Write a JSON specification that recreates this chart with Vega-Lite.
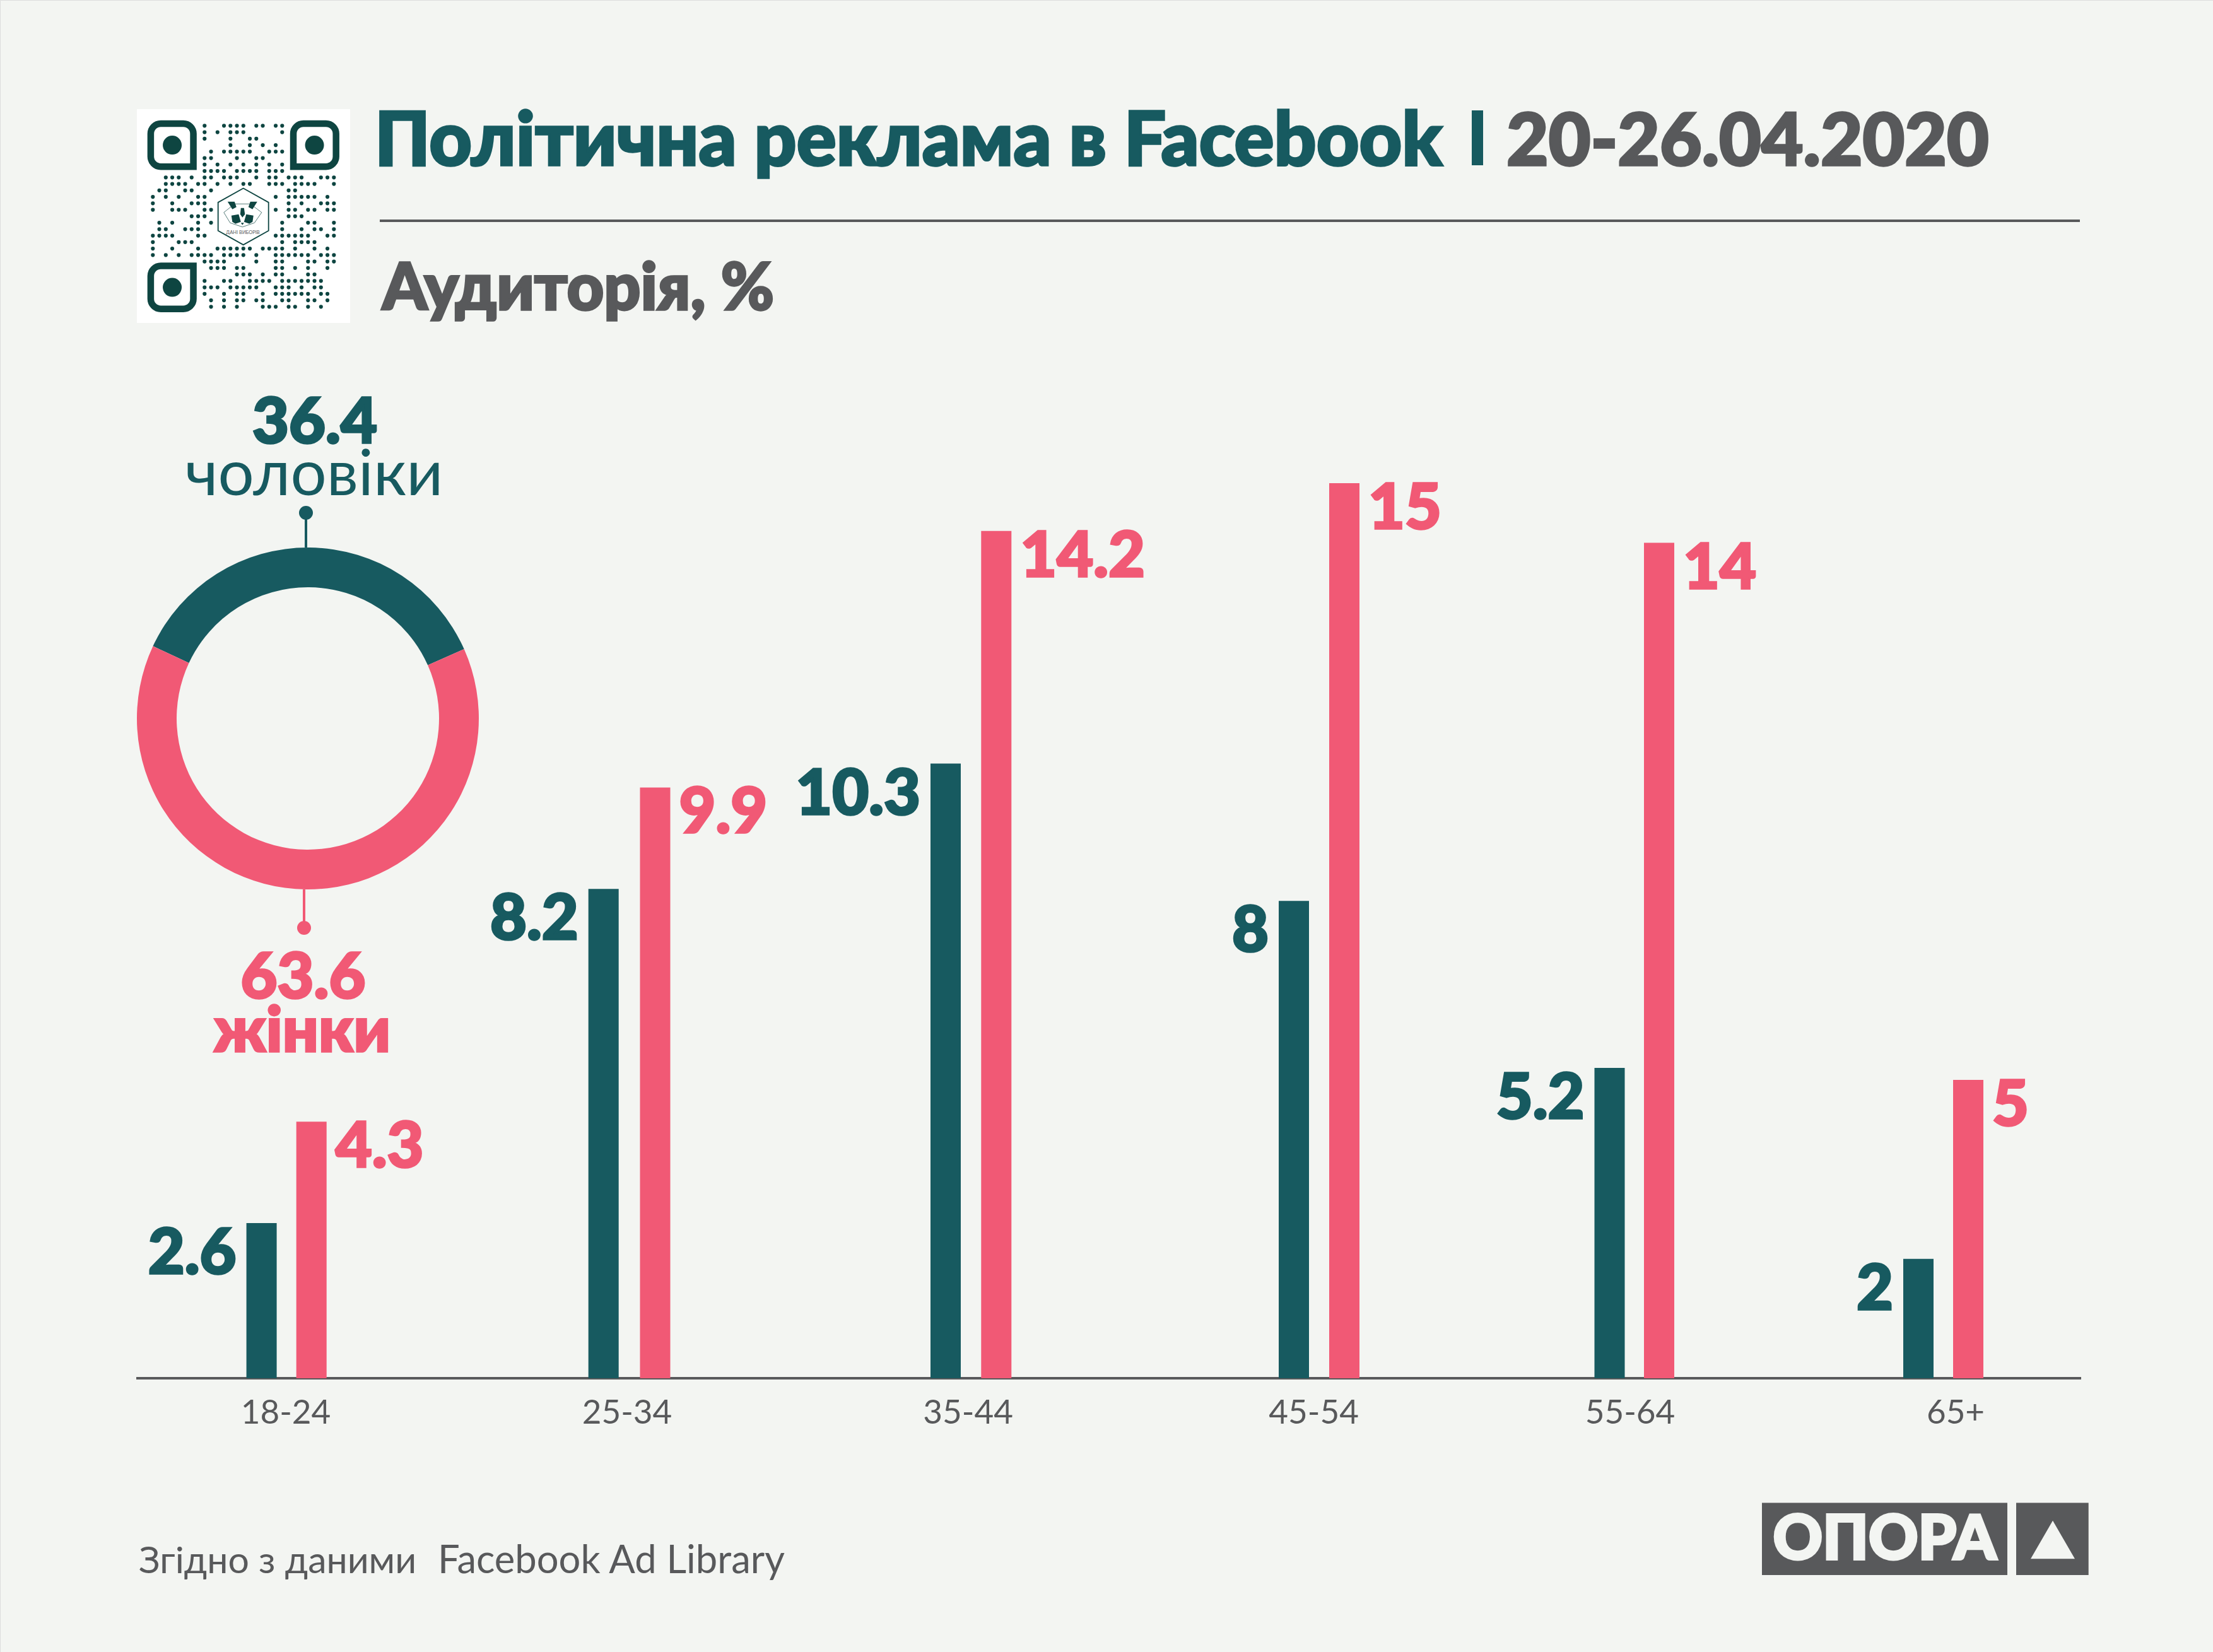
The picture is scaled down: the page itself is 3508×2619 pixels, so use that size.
{
  "$schema": "https://vega.github.io/schema/vega-lite/v6.json",
  "width": 3508,
  "height": 2619,
  "padding": 0,
  "autosize": {"type": "fit", "contains": "padding"},
  "background": "#F3F5F2",
  "data": {"values": [{}]},
  "datasets": {
    "ages": [
      {"age": "18-24", "from": 18, "men": 2.6, "women": 4.3},
      {"age": "25-34", "from": 25, "men": 8.2, "women": 9.9},
      {"age": "35-44", "from": 35, "men": 10.3, "women": 14.2},
      {"age": "45-54", "from": 45, "men": 8, "women": 15},
      {"age": "55-64", "from": 55, "men": 5.2, "women": 14},
      {"age": "65+", "from": 65, "men": 2, "women": 5}
    ],
    "gender": [
      {"gender": "чоловіки", "share": 36.4, "ord": 1},
      {"gender": "жінки", "share": 63.6, "ord": 2}
    ],
    "qr": [
      {"row":0,"col":8},{"row":0,"col":11},{"row":0,"col":12},{"row":0,"col":13},{"row":0,"col":14},{"row":0,"col":16},{"row":0,"col":17},{"row":0,"col":19},{"row":0,"col":20},
      {"row":1,"col":8},{"row":1,"col":10},{"row":1,"col":12},{"row":1,"col":13},{"row":1,"col":14},{"row":1,"col":20},
      {"row":2,"col":8},{"row":2,"col":12},{"row":2,"col":15},{"row":2,"col":16},
      {"row":3,"col":12},{"row":3,"col":15},{"row":3,"col":17},{"row":3,"col":19},
      {"row":4,"col":9},{"row":4,"col":11},{"row":4,"col":12},{"row":4,"col":13},{"row":4,"col":14},{"row":4,"col":15},{"row":4,"col":18},{"row":4,"col":19},{"row":4,"col":20},
      {"row":5,"col":8},{"row":5,"col":9},{"row":5,"col":13},{"row":5,"col":16},{"row":5,"col":17},
      {"row":6,"col":8},{"row":6,"col":10},{"row":6,"col":12},{"row":6,"col":14},{"row":6,"col":16},{"row":6,"col":18},{"row":6,"col":20},
      {"row":7,"col":8},{"row":7,"col":9},{"row":7,"col":10},{"row":7,"col":11},{"row":7,"col":13},{"row":7,"col":14},{"row":7,"col":15},{"row":7,"col":16},{"row":7,"col":18},{"row":7,"col":19},{"row":7,"col":20},
      {"row":8,"col":2},{"row":8,"col":3},{"row":8,"col":4},{"row":8,"col":6},{"row":8,"col":8},{"row":8,"col":9},{"row":8,"col":11},{"row":8,"col":12},{"row":8,"col":13},{"row":8,"col":16},{"row":8,"col":18},{"row":8,"col":19},{"row":8,"col":21},{"row":8,"col":22},{"row":8,"col":23},{"row":8,"col":26},{"row":8,"col":27},{"row":8,"col":28},
      {"row":9,"col":2},{"row":9,"col":3},{"row":9,"col":4},{"row":9,"col":5},{"row":9,"col":7},{"row":9,"col":8},{"row":9,"col":10},{"row":9,"col":12},{"row":9,"col":14},{"row":9,"col":15},{"row":9,"col":18},{"row":9,"col":19},{"row":9,"col":20},{"row":9,"col":22},{"row":9,"col":23},{"row":9,"col":24},{"row":9,"col":25},{"row":9,"col":28},
      {"row":10,"col":1},{"row":10,"col":2},{"row":10,"col":5},{"row":10,"col":6},{"row":10,"col":9},{"row":10,"col":21},{"row":10,"col":22},
      {"row":11,"col":0},{"row":11,"col":2},{"row":11,"col":4},{"row":11,"col":7},{"row":11,"col":8},{"row":11,"col":19},{"row":11,"col":21},{"row":11,"col":22},{"row":11,"col":23},{"row":11,"col":24},{"row":11,"col":25},{"row":11,"col":27},
      {"row":12,"col":0},{"row":12,"col":3},{"row":12,"col":6},{"row":12,"col":7},{"row":12,"col":8},{"row":12,"col":21},{"row":12,"col":23},{"row":12,"col":26},{"row":12,"col":27},{"row":12,"col":28},
      {"row":13,"col":0},{"row":13,"col":3},{"row":13,"col":4},{"row":13,"col":5},{"row":13,"col":8},{"row":13,"col":9},{"row":13,"col":19},{"row":13,"col":21},{"row":13,"col":22},{"row":13,"col":24},{"row":13,"col":25},{"row":13,"col":27},{"row":13,"col":28},
      {"row":14,"col":6},{"row":14,"col":7},{"row":14,"col":8},{"row":14,"col":21},{"row":14,"col":22},{"row":14,"col":23},
      {"row":15,"col":1},{"row":15,"col":3},{"row":15,"col":7},{"row":15,"col":9},{"row":15,"col":20},{"row":15,"col":24},{"row":15,"col":25},{"row":15,"col":28},
      {"row":16,"col":1},{"row":16,"col":2},{"row":16,"col":5},{"row":16,"col":6},{"row":16,"col":7},{"row":16,"col":20},{"row":16,"col":23},{"row":16,"col":25},{"row":16,"col":26},{"row":16,"col":28},
      {"row":17,"col":0},{"row":17,"col":1},{"row":17,"col":2},{"row":17,"col":3},{"row":17,"col":7},{"row":17,"col":8},{"row":17,"col":19},{"row":17,"col":20},{"row":17,"col":21},{"row":17,"col":22},{"row":17,"col":23},{"row":17,"col":24},{"row":17,"col":27},{"row":17,"col":28},
      {"row":18,"col":0},{"row":18,"col":4},{"row":18,"col":5},{"row":18,"col":6},{"row":18,"col":20},{"row":18,"col":22},{"row":18,"col":23},{"row":18,"col":24},{"row":18,"col":25},
      {"row":19,"col":0},{"row":19,"col":3},{"row":19,"col":7},{"row":19,"col":10},{"row":19,"col":11},{"row":19,"col":12},{"row":19,"col":13},{"row":19,"col":14},{"row":19,"col":15},{"row":19,"col":17},{"row":19,"col":18},{"row":19,"col":19},{"row":19,"col":20},{"row":19,"col":22},{"row":19,"col":25},{"row":19,"col":27},
      {"row":20,"col":0},{"row":20,"col":2},{"row":20,"col":4},{"row":20,"col":6},{"row":20,"col":7},{"row":20,"col":8},{"row":20,"col":9},{"row":20,"col":11},{"row":20,"col":12},{"row":20,"col":13},{"row":20,"col":14},{"row":20,"col":16},{"row":20,"col":19},{"row":20,"col":20},{"row":20,"col":21},{"row":20,"col":22},{"row":20,"col":23},{"row":20,"col":24},{"row":20,"col":26},{"row":20,"col":27},{"row":20,"col":28},
      {"row":21,"col":8},{"row":21,"col":9},{"row":21,"col":10},{"row":21,"col":11},{"row":21,"col":16},{"row":21,"col":19},{"row":21,"col":20},{"row":21,"col":24},{"row":21,"col":25},{"row":21,"col":27},{"row":21,"col":28},
      {"row":22,"col":9},{"row":22,"col":10},{"row":22,"col":11},{"row":22,"col":13},{"row":22,"col":14},{"row":22,"col":19},{"row":22,"col":20},{"row":22,"col":22},{"row":22,"col":24},{"row":22,"col":27},
      {"row":23,"col":13},{"row":23,"col":14},{"row":23,"col":15},{"row":23,"col":17},{"row":23,"col":19},{"row":23,"col":20},{"row":23,"col":24},{"row":23,"col":25},
      {"row":24,"col":8},{"row":24,"col":11},{"row":24,"col":12},{"row":24,"col":15},{"row":24,"col":16},{"row":24,"col":17},{"row":24,"col":18},{"row":24,"col":20},{"row":24,"col":21},{"row":24,"col":22},{"row":24,"col":23},{"row":24,"col":24},{"row":24,"col":25},{"row":24,"col":26},
      {"row":25,"col":8},{"row":25,"col":9},{"row":25,"col":10},{"row":25,"col":12},{"row":25,"col":13},{"row":25,"col":14},{"row":25,"col":15},{"row":25,"col":16},{"row":25,"col":19},{"row":25,"col":20},{"row":25,"col":21},{"row":25,"col":23},{"row":25,"col":25},{"row":25,"col":26},
      {"row":26,"col":8},{"row":26,"col":11},{"row":26,"col":13},{"row":26,"col":14},{"row":26,"col":17},{"row":26,"col":19},{"row":26,"col":20},{"row":26,"col":21},{"row":26,"col":22},{"row":26,"col":23},{"row":26,"col":24},{"row":26,"col":26},{"row":26,"col":27},
      {"row":27,"col":9},{"row":27,"col":11},{"row":27,"col":13},{"row":27,"col":14},{"row":27,"col":16},{"row":27,"col":17},{"row":27,"col":20},{"row":27,"col":21},{"row":27,"col":24},{"row":27,"col":25},{"row":27,"col":27},
      {"row":28,"col":9},{"row":28,"col":11},{"row":28,"col":13},{"row":28,"col":17},{"row":28,"col":18},{"row":28,"col":19},{"row":28,"col":21},{"row":28,"col":22},{"row":28,"col":24},{"row":28,"col":26}
    ],
    "finders": [
      {"col": 3, "row": 3, "c1": -0.33, "c2": 6.27, "r1": -0.33, "r2": 6.33},
      {"col": 25, "row": 3, "c1": 21.73, "c2": 28.33, "r1": -0.33, "r2": 6.33},
      {"col": 3, "row": 25, "c1": -0.33, "c2": 6.27, "r1": 21.67, "r2": 28.33}
    ]
  },
  "resolve": {"scale": {"x": "independent", "y": "independent", "color": "independent", "theta": "independent"}},
  "layer": [
    {
      "mark": {"type": "rect", "fill": "#FFFFFF"},
      "encoding": {"x": {"value": 217}, "x2": {"value": 555}, "y": {"value": 173}, "y2": {"value": 512}}
    },
    {
      "data": {"name": "finders"},
      "mark": {
        "type": "rect",
        "fillOpacity": 0,
        "stroke": "#0E4541",
        "strokeWidth": 10.5,
        "cornerRadiusTopLeft": 16,
        "cornerRadiusBottomRight": {"expr": "datum.col < 10 && datum.row < 10 ? 0 : 16"},
        "cornerRadiusBottomLeft": {"expr": "datum.col > 10 ? 0 : 16"},
        "cornerRadiusTopRight": {"expr": "datum.row > 10 ? 0 : 16"}
      },
      "encoding": {
        "x": {"field": "c1", "type": "quantitative", "axis": null, "scale": {"domain": [0, 28], "range": [242.3, 529.3], "nice": false, "zero": false}},
        "x2": {"field": "c2"},
        "y": {"field": "r1", "type": "quantitative", "axis": null, "scale": {"domain": [0, 28], "range": [199.3, 486.3], "nice": false, "zero": false}},
        "y2": {"field": "r2"}
      }
    },
    {
      "data": {"name": "finders"},
      "mark": {"type": "point", "filled": true, "opacity": 1, "size": 900, "shape": "circle", "color": "#0E4541"},
      "encoding": {
        "x": {"field": "col", "type": "quantitative", "axis": null, "scale": {"domain": [0, 28], "range": [242.3, 529.3], "nice": false, "zero": false}},
        "y": {"field": "row", "type": "quantitative", "axis": null, "scale": {"domain": [0, 28], "range": [199.3, 486.3], "nice": false, "zero": false}}
      }
    },
    {
      "data": {"name": "qr"},
      "mark": {"type": "point", "filled": true, "opacity": 1, "size": 38, "shape": "circle", "color": "#0E4541"},
      "encoding": {
        "x": {"field": "col", "type": "quantitative", "axis": null, "scale": {"domain": [0, 28], "range": [242.3, 529.3], "nice": false, "zero": false}},
        "y": {"field": "row", "type": "quantitative", "axis": null, "scale": {"domain": [0, 28], "range": [199.3, 486.3], "nice": false, "zero": false}}
      }
    },
    {
      "mark": {"type": "point", "filled": false, "opacity": 1, "size": 25600, "strokeWidth": 1.8, "color": "#0E4541", "shape": "M0,-0.56 L0.5,-0.28 L0.5,0.28 L0,0.56 L-0.5,0.28 L-0.5,-0.28 Z"},
      "encoding": {"x": {"value": 385.7}, "y": {"value": 343.3}}
    },
    {
      "mark": {"type": "point", "filled": false, "opacity": 1, "size": 10000, "strokeWidth": 0.7, "color": "#0E4541", "shape": "M-0.59,-0.03 L-0.25,-0.3 L0.25,-0.3 L0.61,-0.03 L0.38,0.3 L0,0.43 L-0.39,0.3 Z"},
      "encoding": {"x": {"value": 384.3}, "y": {"value": 338.3}}
    },
    {
      "mark": {"type": "point", "filled": true, "opacity": 1, "size": 10000, "color": "#0E4541", "shape": "M-0.47,-0.37 L-0.25,-0.37 L-0.19,-0.2 L-0.32,-0.13 Z M0.47,-0.37 L0.25,-0.37 L0.19,-0.2 L0.32,-0.13 Z M-0.35,0.07 L-0.12,0.03 L-0.05,0.27 L-0.22,0.33 L-0.32,0.27 Z M0.35,0.07 L0.12,0.03 L0.05,0.27 L0.22,0.33 L0.32,0.27 Z M-0.05,-0.17 L0.05,-0.17 L0.08,0.03 L0,0.13 L-0.07,0.03 Z M-0.05,0.3 L0.05,0.3 L0,0.37 Z"},
      "encoding": {"x": {"value": 384.3}, "y": {"value": 338.3}}
    },
    {
      "mark": {"type": "text", "text": "ДАНІ ВИБОРІВ", "font": "Lato", "fontSize": 7.5, "color": "#58595B", "align": "center", "baseline": "alphabetic"},
      "encoding": {"x": {"value": 385}, "y": {"value": 371}}
    },
    {
      "mark": {"type": "text", "text": "Політична реклама в Facebook", "font": "Lato", "fontWeight": 900, "fontSize": 117.5, "color": "#175A60", "stroke": "#175A60", "strokeWidth": 3.5, "align": "left", "baseline": "alphabetic"},
      "encoding": {"x": {"value": 594}, "y": {"value": 262}}
    },
    {
      "mark": {"type": "rect", "color": "#175A60"},
      "encoding": {"x": {"value": 2333}, "x2": {"value": 2351}, "y": {"value": 175}, "y2": {"value": 262}}
    },
    {
      "mark": {"type": "text", "text": "20-26.04.2020", "font": "Lato", "fontWeight": 900, "fontSize": 115, "color": "#58595B", "stroke": "#58595B", "strokeWidth": 3.5, "align": "left", "baseline": "alphabetic"},
      "encoding": {"x": {"value": 2388}, "y": {"value": 262}}
    },
    {
      "mark": {"type": "rect", "color": "#58595B"},
      "encoding": {"x": {"value": 602}, "x2": {"value": 3297}, "y": {"value": 348}, "y2": {"value": 352}}
    },
    {
      "mark": {"type": "text", "text": "Аудиторія, %", "font": "Lato", "fontWeight": 900, "fontSize": 102, "color": "#58595B", "stroke": "#58595B", "strokeWidth": 3.5, "align": "left", "baseline": "alphabetic"},
      "encoding": {"x": {"value": 606}, "y": {"value": 491}}
    },
    {
      "mark": {"type": "rect", "color": "#58595B"},
      "encoding": {"x": {"value": 216}, "x2": {"value": 3299}, "y": {"value": 2183}, "y2": {"value": 2187}}
    },
    {
      "data": {"name": "ages"},
      "layer": [
        {"mark": {"type": "bar", "orient": "vertical", "width": 48, "color": "#175A60"}},
        {
          "mark": {"type": "text", "font": "Lato", "fontWeight": 900, "fontSize": 100, "color": "#175A60", "stroke": "#175A60", "strokeWidth": 3.5, "align": "right", "baseline": "alphabetic", "dx": -40, "dy": 80},
          "encoding": {"text": {"field": "men", "type": "quantitative"}}
        }
      ],
      "encoding": {
        "x": {"field": "from", "type": "quantitative", "axis": null, "scale": {"domain": [18, 25, 35, 45, 55, 65], "range": [414.6, 956.7, 1499, 2051, 2551.5, 3041], "nice": false, "zero": false, "padding": 0}},
        "y": {"field": "men", "type": "quantitative", "axis": null, "stack": null, "scale": {"domain": [0, 15], "range": [2185, 766], "nice": false}}
      }
    },
    {
      "data": {"name": "ages"},
      "layer": [
        {"mark": {"type": "bar", "orient": "vertical", "width": 48, "color": "#F15975"}},
        {
          "mark": {"type": "text", "font": "Lato", "fontWeight": 900, "fontSize": 100, "color": "#F15975", "stroke": "#F15975", "strokeWidth": 3.5, "align": "left", "baseline": "alphabetic", "dx": 38, "dy": 72},
          "encoding": {"text": {"field": "women", "type": "quantitative"}}
        }
      ],
      "encoding": {
        "x": {"field": "from", "type": "quantitative", "axis": null, "scale": {"domain": [18, 25, 35, 45, 55, 65], "range": [493.7, 1038.5, 1579.3, 2131, 2630, 3120], "nice": false, "zero": false, "padding": 0}},
        "y": {"field": "women", "type": "quantitative", "axis": null, "stack": null, "scale": {"domain": [0, 15], "range": [2185, 766], "nice": false}}
      }
    },
    {
      "data": {"name": "ages"},
      "mark": {"type": "text", "font": "Lato", "fontWeight": 400, "fontSize": 53, "color": "#58595B", "align": "center", "baseline": "alphabetic", "dy": 72},
      "encoding": {
        "x": {"field": "from", "type": "quantitative", "axis": null, "scale": {"domain": [18, 25, 35, 45, 55, 65], "range": [453, 994, 1534.6, 2082.7, 2584, 3100], "nice": false, "zero": false}},
        "y": {"datum": 0, "type": "quantitative", "axis": null, "scale": {"domain": [0, 15], "range": [2185, 766], "nice": false}},
        "text": {"field": "age", "type": "nominal"}
      }
    },
    {
      "data": {"name": "gender"},
      "mark": {"type": "arc", "radius": 271, "radius2": 208},
      "encoding": {
        "x": {"value": 488},
        "y": {"value": 1139},
        "theta": {"field": "share", "type": "quantitative", "stack": true, "scale": {"range": [-1.134, 5.149]}},
        "order": {"field": "ord", "type": "quantitative"},
        "color": {"field": "gender", "type": "nominal", "legend": null, "scale": {"domain": ["чоловіки", "жінки"], "range": ["#175A60", "#F15975"]}}
      }
    },
    {
      "mark": {"type": "rule", "color": "#175A60", "strokeWidth": 4},
      "encoding": {"x": {"value": 485}, "y": {"value": 813}, "y2": {"value": 868}}
    },
    {
      "mark": {"type": "point", "filled": true, "opacity": 1, "size": 484, "shape": "circle", "color": "#175A60"},
      "encoding": {"x": {"value": 485}, "y": {"value": 813}}
    },
    {
      "mark": {"type": "rule", "color": "#F15975", "strokeWidth": 4},
      "encoding": {"x": {"value": 482}, "y": {"value": 1410}, "y2": {"value": 1471}}
    },
    {
      "mark": {"type": "point", "filled": true, "opacity": 1, "size": 484, "shape": "circle", "color": "#F15975"},
      "encoding": {"x": {"value": 482}, "y": {"value": 1471}}
    },
    {
      "data": {"name": "gender"},
      "transform": [{"filter": "datum.ord == 1"}],
      "layer": [
        {
          "mark": {"type": "text", "font": "Lato", "fontWeight": 900, "fontSize": 100, "color": "#175A60", "stroke": "#175A60", "strokeWidth": 3.5, "align": "center", "baseline": "alphabetic"},
          "encoding": {"text": {"field": "share", "type": "quantitative"}, "x": {"value": 499}, "y": {"value": 702}}
        },
        {
          "mark": {"type": "text", "font": "Lato", "fontWeight": 400, "fontSize": 101, "color": "#175A60", "align": "center", "baseline": "alphabetic"},
          "encoding": {"text": {"field": "gender", "type": "nominal"}, "x": {"value": 498}, "y": {"value": 785}}
        }
      ]
    },
    {
      "data": {"name": "gender"},
      "transform": [{"filter": "datum.ord == 2"}],
      "layer": [
        {
          "mark": {"type": "text", "font": "Lato", "fontWeight": 900, "fontSize": 100, "color": "#F15975", "stroke": "#F15975", "strokeWidth": 3.5, "align": "center", "baseline": "alphabetic"},
          "encoding": {"text": {"field": "share", "type": "quantitative"}, "x": {"value": 480.5}, "y": {"value": 1582}}
        },
        {
          "mark": {"type": "text", "font": "Lato", "fontWeight": 900, "fontSize": 100, "color": "#F15975", "stroke": "#F15975", "strokeWidth": 3.5, "align": "center", "baseline": "alphabetic"},
          "encoding": {"text": {"field": "gender", "type": "nominal"}, "x": {"value": 479}, "y": {"value": 1667}}
        }
      ]
    },
    {
      "mark": {"type": "text", "text": "Згідно з даними", "font": "Lato", "fontWeight": 400, "fontSize": 59, "color": "#58595B", "align": "left", "baseline": "alphabetic"},
      "encoding": {"x": {"value": 220}, "y": {"value": 2494}}
    },
    {
      "mark": {"type": "text", "text": "Facebook Ad Library", "font": "Lato", "fontWeight": 400, "fontSize": 61.5, "color": "#58595B", "align": "left", "baseline": "alphabetic"},
      "encoding": {"x": {"value": 694}, "y": {"value": 2494}}
    },
    {
      "mark": {"type": "rect", "color": "#58595B"},
      "encoding": {"x": {"value": 2793}, "x2": {"value": 3182}, "y": {"value": 2382.5}, "y2": {"value": 2497}}
    },
    {
      "mark": {"type": "rect", "color": "#58595B"},
      "encoding": {"x": {"value": 3196}, "x2": {"value": 3310.7}, "y": {"value": 2382.5}, "y2": {"value": 2497}}
    },
    {
      "mark": {"type": "text", "text": "ОПОРА", "font": "Lato", "fontWeight": 900, "fontSize": 97, "color": "#F3F5F2", "stroke": "#F3F5F2", "strokeWidth": 4, "align": "center", "baseline": "alphabetic"},
      "encoding": {"x": {"value": 2987.5}, "y": {"value": 2472}}
    },
    {
      "mark": {"type": "point", "filled": true, "opacity": 1, "size": 4900, "shape": "triangle-up", "color": "#F3F5F2"},
      "encoding": {"x": {"value": 3254}, "y": {"value": 2441}}
    }
  ]
}
